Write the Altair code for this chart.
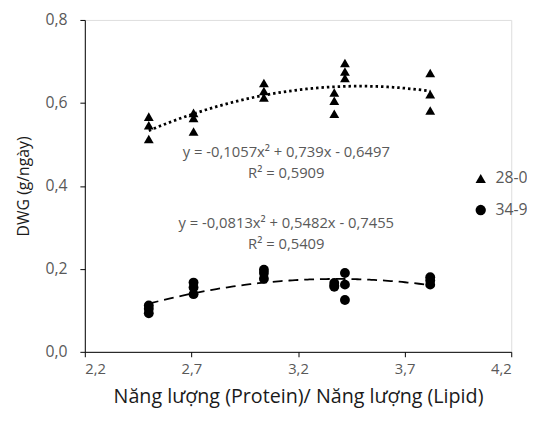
import altair as alt
import pandas as pd

# ---- data ----
x_groups = [2.5, 2.71, 3.04, 3.37, 3.42, 3.82]
y_28_0 = [0.567, 0.546, 0.513,
          0.576, 0.564, 0.531,
          0.648, 0.629, 0.613,
          0.625, 0.605, 0.574,
          0.696, 0.676, 0.660,
          0.672, 0.621, 0.582]
y_34_9 = [0.112, 0.104, 0.093,
          0.167, 0.155, 0.139,
          0.198, 0.190, 0.176,
          0.166, 0.160, 0.157,
          0.190, 0.162, 0.125,
          0.180, 0.172, 0.162]
series_names = ["28-0", "34-9"]
x_ticks = [2.2, 2.7, 3.2, 3.7, 4.2]
y_ticks = [0.0, 0.2, 0.4, 0.6, 0.8]

eq_lines = ["y = -0,1057x² + 0,739x - 0,6497", "R² = 0,5909",
            "y = -0,0813x² + 0,5482x - 0,7455", "R² = 0,5409"]
eq_x = [3.145, 3.145, 3.145, 3.145]
eq_y = [0.481, 0.430, 0.310, 0.259]

xs = [g for g in x_groups for _ in range(3)]
df = pd.DataFrame({
    "x": xs + xs,
    "y": y_28_0 + y_34_9,
    "series": [series_names[0]] * len(xs) + [series_names[1]] * len(xs),
})
ann = pd.DataFrame({"x": eq_x, "y": eq_y, "t": eq_lines})

FONT = "Open Sans"
GRAY = "#595959"

xscale = alt.Scale(domain=[2.2, 4.2], nice=False, zero=False)
yscale = alt.Scale(domain=[0, 0.8], nice=False)

xaxis = alt.Axis(values=x_ticks, labelExpr="replace(format(datum.value, '.1f'), '.', ',')",
                 title="Năng lượng (Protein)/ Năng lượng (Lipid)", titlePadding=10,
                 titleFontSize=20, titleFontWeight="normal", titleColor="#1a1a1a",
                 labelFontSize=15, labelColor=GRAY, labelPadding=5, tickSize=5,
                 grid=False, domainColor="black", tickColor="black", labelFont=FONT, titleFont=FONT)
yaxis = alt.Axis(values=y_ticks, labelExpr="replace(format(datum.value, '.1f'), '.', ',')",
                 title="DWG (g/ngày)", titlePadding=14,
                 titleFontSize=16, titleFontWeight="normal", titleColor="#1a1a1a",
                 labelFontSize=16, labelColor=GRAY, labelPadding=13, tickSize=5,
                 grid=False, domainColor="black", tickColor="black", labelFont=FONT, titleFont=FONT)

base = alt.Chart(df)

points = base.mark_point(filled=True, opacity=1, color="black", size=100).encode(
    x=alt.X("x:Q", scale=xscale, axis=xaxis),
    y=alt.Y("y:Q", scale=yscale, axis=yaxis),
    shape=alt.Shape("series:N",
                    scale=alt.Scale(domain=series_names, range=["triangle-up", "circle"]),
                    legend=alt.Legend(title=None, orient="none", legendX=394, legendY=153,
                                      labelFontSize=16, labelColor=GRAY, labelFont=FONT,
                                      symbolSize=110, symbolFillColor="black",
                                      symbolStrokeColor="black", rowPadding=15,
                                      labelOffset=7)),
)

trend28 = base.transform_filter(alt.datum.series == series_names[0]).transform_regression(
    "x", "y", method="poly", order=2
).mark_line(color="black", strokeWidth=2.8, strokeDash=[2.5, 3]).encode(
    x=alt.X("x:Q", scale=xscale), y=alt.Y("y:Q", scale=yscale))

trend34 = base.transform_filter(alt.datum.series == series_names[1]).transform_regression(
    "x", "y", method="poly", order=2
).mark_line(color="black", strokeWidth=1.8, strokeDash=[10, 6]).encode(
    x=alt.X("x:Q", scale=xscale), y=alt.Y("y:Q", scale=yscale))

text = alt.Chart(ann).mark_text(fontSize=15, color=GRAY, font=FONT).encode(
    x=alt.X("x:Q", scale=xscale), y=alt.Y("y:Q", scale=yscale), text="t:N")

chart = alt.layer(trend28, trend34, points, text).properties(
    width=433, height=337,
    autosize=alt.AutoSizeParams(type="none"),
    padding={"left": 78, "top": 9, "right": 16, "bottom": 62},
).configure_view(stroke=None).configure(background="white")

chart.save("out.html", embed_options={"renderer": "svg", "actions": False})
